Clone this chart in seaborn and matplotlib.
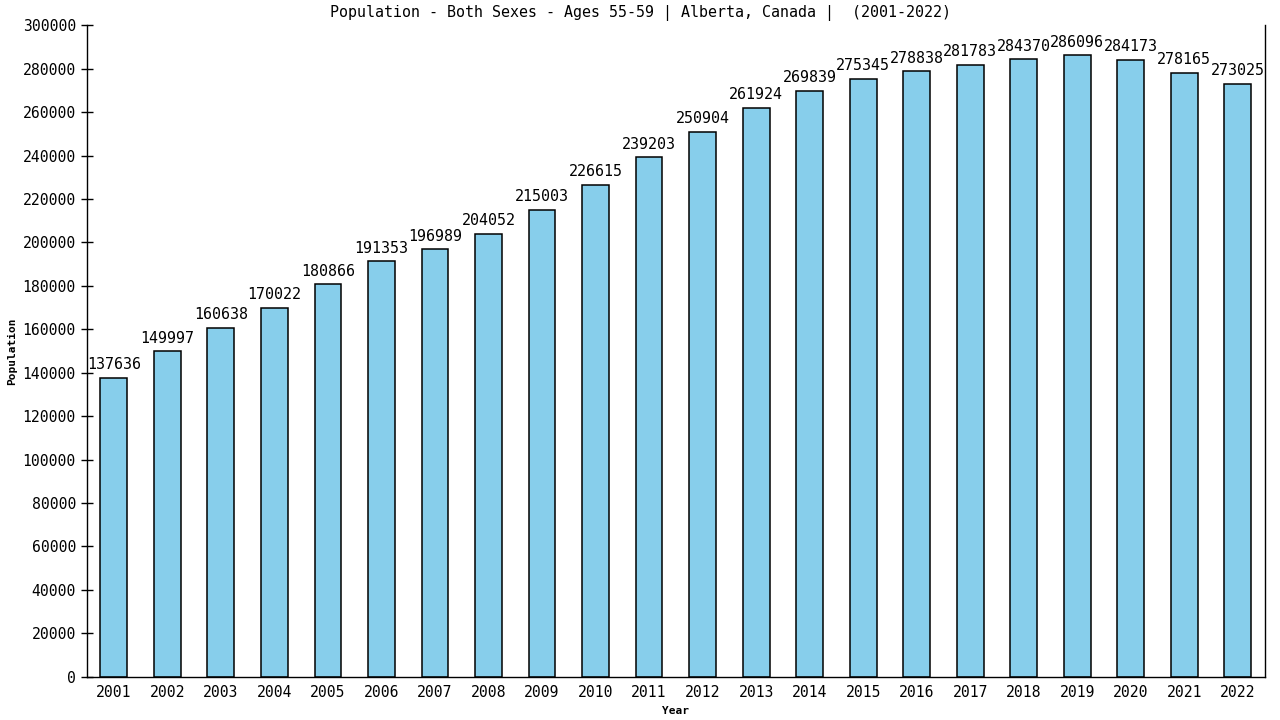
import matplotlib
matplotlib.use('Agg')
import matplotlib.pyplot as plt
import seaborn as sns
import pandas as pd

# data
years = [str(y) for y in range(2001, 2023)]
population = [137636, 149997, 160638, 170022, 180866, 191353, 196989, 204052, 215003, 226615,
              239203, 250904, 261924, 269839, 275345, 278838, 281783, 284370, 286096, 284173,
              278165, 273025]
yticks = list(range(0, 300001, 20000))

df = pd.DataFrame({'Year': years, 'Population': population})

sns.set_style('white')
plt.rcParams['font.family'] = ['DejaVu Sans Mono']
plt.rcParams['text.color'] = 'black'
plt.rcParams['xtick.color'] = 'black'
plt.rcParams['ytick.color'] = 'black'
plt.rcParams['axes.labelcolor'] = 'black'

fig = plt.figure(figsize=(12.8, 7.2), dpi=100)
ax = fig.add_axes([0.068, 0.06, 0.920, 0.905])

sns.barplot(data=df, x='Year', y='Population', color='#87CEEB', width=0.5,
            edgecolor='black', linewidth=1.1, saturation=1, ax=ax)

for i, v in enumerate(population):
    ax.text(i, v + 2500, str(v), ha='center', va='bottom', fontsize=10.8)

ax.set_xlim(-0.5, 21.5)
ax.set_ylim(0, 300000)
ax.set_yticks(yticks)
ax.set_yticklabels([str(t) for t in yticks], fontsize=10.6)
ax.tick_params(axis='y', direction='inout', length=9, width=1, left=True)
ax.tick_params(axis='x', length=0, labelsize=10.6, pad=6)

for side in ['left', 'right', 'bottom']:
    ax.spines[side].set_visible(True)
    ax.spines[side].set_color('black')
    ax.spines[side].set_linewidth(1)
ax.spines['top'].set_visible(False)

fig.text(0.5, 0.982, 'Population - Both Sexes - Ages 55-59 | Alberta, Canada |  (2001-2022)',
         ha='center', va='center', fontsize=10.8)
ax.set_xlabel('Year', fontsize=8, fontweight='bold', labelpad=4)
ax.set_ylabel('Population', fontsize=8, fontweight='bold')

plt.savefig('out.png', dpi=100)
